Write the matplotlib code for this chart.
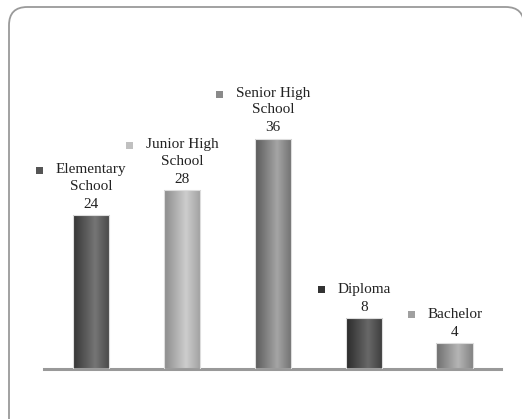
import numpy as np
import matplotlib
matplotlib.use("Agg")
import matplotlib.pyplot as plt
from matplotlib.patches import FancyBboxPatch, Rectangle
from matplotlib.colors import LinearSegmentedColormap

categories = ["Elementary\nSchool", "Junior High\nSchool", "Senior High\nSchool", "Diploma", "Bachelor"]
values = [24, 28, 36, 8, 4]
dark_colors = ["#353535", "#8c8c8c", "#5a5a5a", "#2a2a2a", "#6e6e6e"]
light_colors = ["#757575", "#cdcdcd", "#a5a5a5", "#686868", "#b5b5b5"]
marker_colors = ["#555555", "#c0c0c0", "#8a8a8a", "#333333", "#a0a0a0"]

plt.rcParams['font.family'] = ['Liberation Serif', 'DejaVu Serif']

fig = plt.figure(figsize=(5.22, 4.19), dpi=100)
W, H = 522, 419

# rounded frame
frame = FancyBboxPatch((9 / W, -30 / H), 515 / W, (H + 30 - 7) / H,
                       boxstyle="round,pad=0,rounding_size=0.035",
                       transform=fig.transFigure, facecolor="white",
                       edgecolor="#9a9a9a", linewidth=1.3, zorder=-10,
                       mutation_aspect=W / H)
fig.patches.append(frame)

ax = fig.add_axes([44 / W, (H - 369) / H, 457 / W, 320 / H])
ax.set_zorder(1)
ax.set_facecolor("none")
x = np.arange(len(values))
bw = 0.40
for s in ["top", "right", "left"]:
    ax.spines[s].set_visible(False)
ax.spines["bottom"].set_color("#999999")
ax.spines["bottom"].set_linewidth(2.2)
ax.set_xticks([])
ax.set_yticks([])

bars = ax.bar(x, values, width=bw, color="none", edgecolor="#dddddd", linewidth=0.8, zorder=3)
t = np.linspace(0, 1, 256)
prof = np.where(t < 0.6, t / 0.6, 1 - (t - 0.6) / 0.4 * 0.7)
for i, b in enumerate(bars):
    cmap = LinearSegmentedColormap.from_list("g%d" % i, [dark_colors[i], light_colors[i]])
    x0 = b.get_x()
    im = ax.imshow(prof[np.newaxis, :], cmap=cmap, vmin=0, vmax=1, aspect="auto",
                   extent=[x0, x0 + bw, 0, values[i]], zorder=2, interpolation="bilinear")
    im.set_clip_path(b)

ax.set_xlim(-0.52, 4.51)
ax.set_ylim(0, 50)

fig.canvas.draw()
fs = 11
for i, v in enumerate(values):
    ax.annotate(str(v), (x[i], v), xytext=(0, 3), textcoords="offset points",
                ha="center", va="bottom", fontsize=fs, color="#222222")
    txt = ax.annotate(categories[i], (x[i], v), xytext=(0, 16), textcoords="offset points",
                      ha="center", va="bottom", fontsize=fs, color="#222222",
                      multialignment="center", linespacing=1.38)
    bb = txt.get_window_extent(renderer=fig.canvas.get_renderer())
    nlines = categories[i].count("\n") + 1
    line_h = bb.height / nlines
    my = bb.y1 - line_h * 0.5
    mx = bb.x0 - 16
    fig.add_artist(Rectangle((mx / W - 3.5 / W, my / H - 3.5 / H), 7 / W, 7 / H,
                             transform=fig.transFigure, facecolor=marker_colors[i],
                             edgecolor="none", zorder=5))

fig.savefig("out.png", dpi=100)
